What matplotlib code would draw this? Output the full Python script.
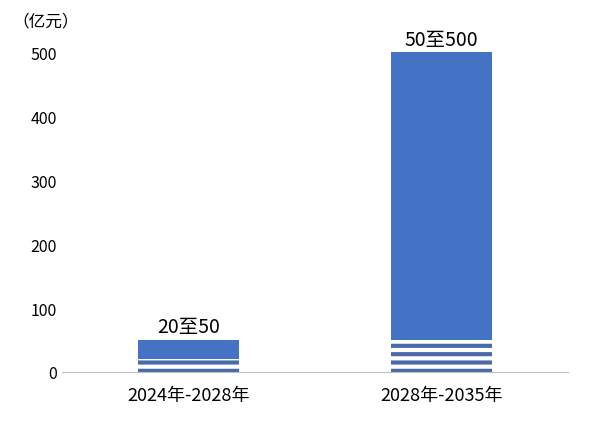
import matplotlib
matplotlib.use("Agg")
import matplotlib.pyplot as plt

categories = ["2024年-2028年", "2028年-2035年"]
low = [20, 50]
high = [50, 500]
labels = ["20至50", "50至500"]

plt.rcParams['font.family'] = ['Noto Sans CJK SC', 'DejaVu Sans']
plt.rcParams['hatch.linewidth'] = 3.0
plt.rcParams['hatch.color'] = '#4a6aa8'

fig = plt.figure(figsize=(5.9, 4.31), dpi=100)
ax = fig.add_axes([62/590, 1-373/431, (568-62)/590, (373-34)/431])
x = [0, 1]
upper = [h - l for h, l in zip(high, low)]
ax.bar(x, low, width=0.4, color='white', hatch='--', edgecolor='#4a6aa8', linewidth=0)
ax.bar(x, upper, bottom=low, width=0.4, color='#4472c4', linewidth=0)
for xi, h, t in zip(x, high, labels):
    ax.text(xi, h + 4, t, ha='center', va='bottom', fontsize=14)
ax.set_xlim(-0.5, 1.5)
ax.set_ylim(0, 530)
ax.set_yticks(range(0, 501, 100))
ax.set_xticks(x)
ax.set_xticklabels(categories)
ax.tick_params(length=0, labelsize=11.5)
ax.tick_params(axis='x', labelsize=13, pad=10)
for s in ['top', 'right', 'left']:
    ax.spines[s].set_visible(False)
ax.spines['bottom'].set_color('#bfbfbf')
fig.text(12/590, 1-22/431, "（亿元）", fontsize=12, va='center')
fig.savefig("out.png")
